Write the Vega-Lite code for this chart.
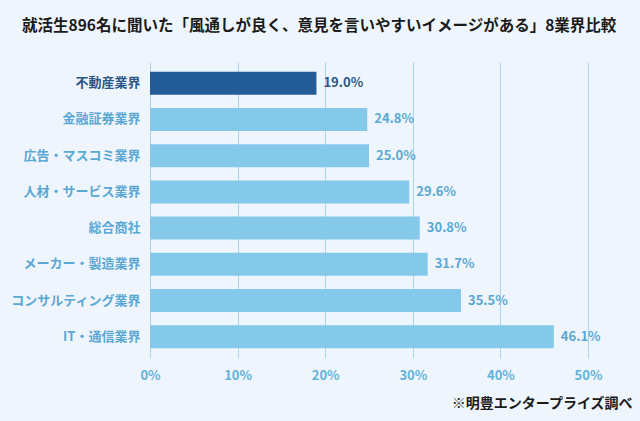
{
  "$schema": "https://vega.github.io/schema/vega-lite/v6.json",
  "autosize": {"type": "none"},
  "width": 438,
  "height": 296,
  "padding": {"left": 150, "top": 62, "right": 52, "bottom": 63},
  "background": "#EEF5FC",
  "title": {
    "text": "就活生896名に聞いた「風通しが良く、意見を言いやすいイメージがある」8業界比較",
    "font": "Noto Sans CJK JP",
    "fontSize": 15.5,
    "fontWeight": "bold",
    "color": "#1a1a1a",
    "anchor": "start",
    "frame": "group",
    "dx": -128,
    "offset": 28
  },
  "config": {
    "view": {"stroke": null},
    "font": "Noto Sans CJK JP"
  },
  "data": {
    "values": [
      {"industry": "不動産業界", "value": 0.190},
      {"industry": "金融証券業界", "value": 0.248},
      {"industry": "広告・マスコミ業界", "value": 0.250},
      {"industry": "人材・サービス業界", "value": 0.296},
      {"industry": "総合商社", "value": 0.308},
      {"industry": "メーカー・製造業界", "value": 0.317},
      {"industry": "コンサルティング業界", "value": 0.355},
      {"industry": "IT・通信業界", "value": 0.461}
    ]
  },
  "encoding": {
    "y": {
      "field": "industry",
      "type": "nominal",
      "sort": null,
      "scale": {"paddingInner": 0.365, "paddingOuter": 0.27},
      "axis": {
        "title": null,
        "domain": false,
        "ticks": false,
        "grid": false,
        "labelPadding": 10,
        "labelFont": "Noto Sans CJK JP",
        "labelFontSize": 13,
        "labelFontWeight": "bold",
        "labelColor": {"condition": {"test": "datum.value === '不動産業界'", "value": "#2A5786"}, "value": "#5AA8D3"}
      }
    },
    "x": {
      "field": "value",
      "type": "quantitative",
      "scale": {"domain": [0, 0.5]},
      "axis": {
        "values": [0, 0.1, 0.2, 0.3, 0.4, 0.5],
        "format": ".0%",
        "domain": false,
        "ticks": false,
        "grid": true,
        "gridColor": "#A9D5EA",
        "gridWidth": 1,
        "labelFlush": false,
        "labelPadding": 11,
        "labelFont": "Noto Sans CJK JP",
        "labelFontSize": 13,
        "labelFontWeight": "bold",
        "labelColor": "#62B2DB",
        "title": "※明豊エンタープライズ調べ",
        "titleFont": "Noto Sans CJK JP",
        "titleFontSize": 14,
        "titleFontWeight": "bold",
        "titleColor": "#1a1a1a",
        "titleAlign": "right",
        "titleAnchor": "end",
        "titleBaseline": "middle",
        "titleX": 482,
        "titleY": 45
      }
    }
  },
  "layer": [
    {
      "mark": {"type": "bar"},
      "encoding": {
        "color": {
          "condition": {"test": "datum.industry === '不動産業界'", "value": "#235C99"},
          "value": "#85C9EA"
        }
      }
    },
    {
      "mark": {"type": "text", "align": "left", "dx": 7, "fontSize": 13, "fontWeight": "bold", "font": "Noto Sans CJK JP"},
      "encoding": {
        "text": {"field": "value", "type": "quantitative", "format": ".1%"},
        "color": {
          "condition": {"test": "datum.industry === '不動産業界'", "value": "#2A5786"},
          "value": "#5AA8D3"
        }
      }
    }
  ]
}
